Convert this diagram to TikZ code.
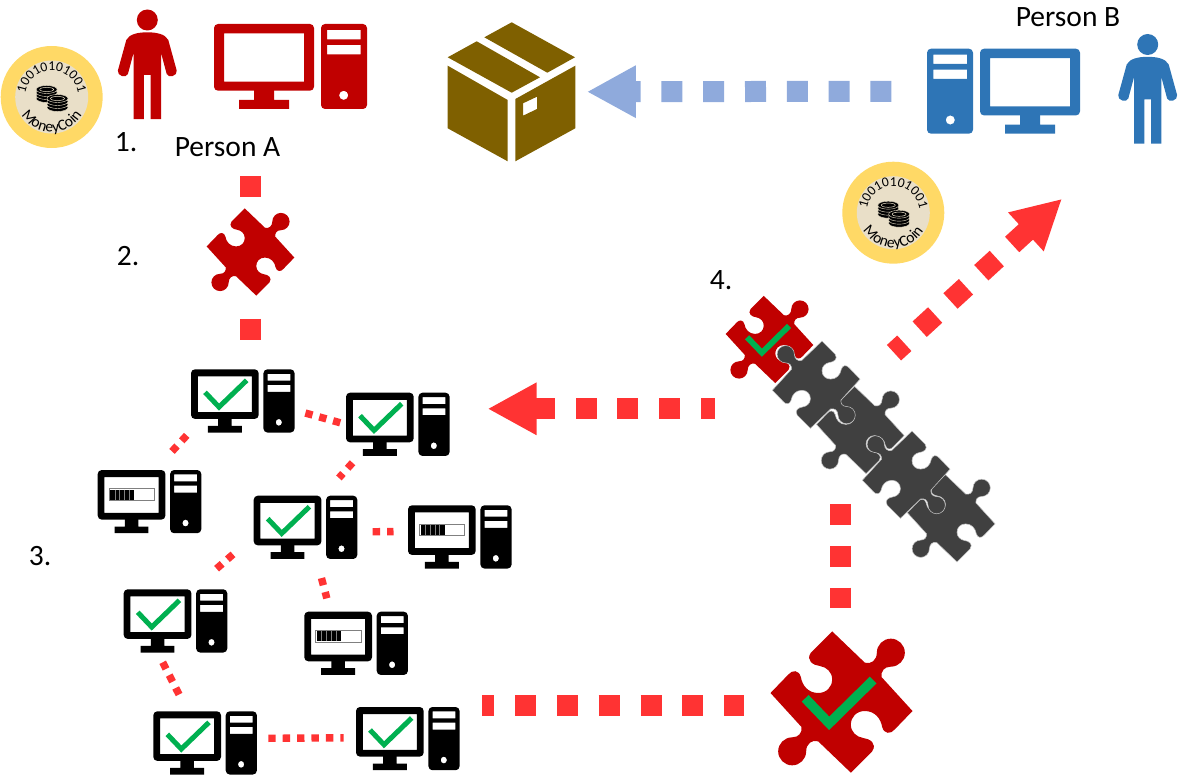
\documentclass[tikz,border=0pt]{standalone}
\usepackage{fontspec}
\setmainfont{Carlito}
\usepackage{xcolor}
\usetikzlibrary{
  positioning,
  calc,
  arrows.meta,
  fit,
  decorations.text
}
\definecolor{pcred}{HTML}{C00000}
\definecolor{pcblue}{HTML}{2E75B6}
\definecolor{linkred}{HTML}{FF3333}
\definecolor{linkblue}{HTML}{8FAADC}
\definecolor{tickgreen}{HTML}{00B050}
\definecolor{coinrim}{HTML}{FFD966}
\definecolor{coinface}{HTML}{E9DFC8}
\definecolor{parcelbrown}{HTML}{7F6000}
\definecolor{chaingrey}{HTML}{404040}
\newcommand{\coinsize}{\fontsize{13.6}{15}\selectfont}
\newcommand{\coinname}{\fontsize{15.5}{17}\selectfont}
\newcommand{\puzzlepath}{
  (-28,-212) -- (70,-118) .. controls (88,-112) and (106,-125) .. (106,-148)
  arc [start angle=180, end angle=450, radius=42]
  .. controls (128,-106) and (118,-92) .. (120,-75)
  -- (213,27) -- (160,82) .. controls (148,97) and (128,97) .. (122,75)
  .. controls (118,50) and (100,27) .. (70,27)
  .. controls (45,27) and (28,45) .. (28,68)
  .. controls (28,90) and (45,105) .. (65,108)
  .. controls (85,110) and (108,125) .. (92,148)
  -- (28,212) -- (-70,118) .. controls (-88,112) and (-106,125) .. (-106,148)
  arc [start angle=0, end angle=270, radius=42]
  .. controls (-128,106) and (-118,92) .. (-120,75)
  -- (-213,-27) -- (-160,-82) .. controls (-148,-97) and (-128,-97) .. (-122,-75)
  .. controls (-118,-50) and (-100,-27) .. (-70,-27)
  .. controls (-45,-27) and (-28,-45) .. (-28,-68)
  .. controls (-28,-90) and (-45,-105) .. (-65,-108)
  .. controls (-85,-110) and (-108,-125) .. (-92,-148)
  -- cycle
}
\newcommand{\pcbody}[1]{
  \fill [#1, even odd rule, rounded corners=4pt]
    (0,0) rectangle (100,66.7)
    [sharp corners] (10,9.5) rectangle (90,57.7);
  \fill [#1] (40,66) rectangle (60,77) (25,76) rectangle (75,85);
  \fill [#1, even odd rule, rounded corners=4pt]
    (107,0) rectangle (153,85)
    [sharp corners] (113,6) rectangle (146.7,15.3) (113,21) rectangle (146.7,30.3)
    (129.7,71.3) circle [radius=4.6];
  \node [inner sep=0pt, fit={(0,0) (153,85)}] (-n) {};
}
\tikzset{
  >={Triangle[length=49pt,width=49pt]},
  small/.style = {
    xscale=.677, yscale=.744
  },
  lbl/.style = {
    font=\fontsize{29.5}{32}\selectfont, inner sep=0pt, anchor=base
  },
  block/.style = {
    draw=linkred, line width=21pt
  },
  biglink/.style = {
    draw=linkred, line width=21pt, dash pattern=on 21pt off 20.8pt
  },
  netlink/.style = {
    draw=linkred, line width=7.4pt, dash pattern=on 7.4pt off 7pt
  },
  tick/.style = {
    draw=tickgreen, line width=5pt
  },
  pics/desktop/.style = {
    code = {
      \pcbody{#1}
    }
  },
  pics/okpc/.style = {
    code = {
      \pcbody{black}
      \draw [tick] (20.7,30.9) -- (41.4,50.7) -- (82.3,14.8);
    }
  },
  pics/waitpc/.style = {
    code = {
      \pcbody{black}
      \draw [gray, line width=1pt] (17,25.2) rectangle (84,41);
      \fill [black] (18.5,26.4) rectangle (54,39.8);
      \foreach \i in {1,...,4}
        \draw [gray, line width=.7pt] (18.5+7.1*\i,26.4) -- (18.5+7.1*\i,39.8);
    }
  },
  pics/person/.style = {
    code = {
      \fill [#1] (0,10.5) circle [radius=10.5];
      \fill [#1] (0,22.8) .. controls (9,22.8) and (18,24.5) .. (21,30.5)
        -- (29.4,61) .. controls (30.5,66.5) and (21,69) .. (19.4,64.5)
        -- (13.7,43.2) -- (13.7,109.5) -- (3.4,109.5) -- (3.4,65.5)
        -- (-3.4,65.5) -- (-3.4,109.5) -- (-13.7,109.5) -- (-13.7,43.2)
        -- (-19.4,64.5) .. controls (-21,69) and (-30.5,66.5) .. (-29.4,61)
        -- (-21,30.5) .. controls (-18,24.5) and (-9,22.8) .. (0,22.8) -- cycle;
    }
  },
  pics/piece/.style = {
    code = {
      \fill [#1] \puzzlepath;
      \node [inner sep=0pt, fit={(-213,-212) (213,212)}] (-n) {};
    }
  },
  pics/seampiece/.style = {
    code = {
      \draw [fill=#1, draw=white!55!gray, line width=.5pt] \puzzlepath;
      \node [inner sep=0pt, fit={(-213,-212) (213,212)}] (-n) {};
    }
  },
  pics/piecetick/.style = {
    code = {
      \draw [draw=tickgreen, line width=#1] (-109,-11) -- (-37,64) -- (95,-66);
    }
  },
  pics/parcel/.style = {
    code = {
      \fill [parcelbrown]
        (81.7,22.3) -- (145,57.3) -- (117.3,72.7) -- (54.3,37.3) -- cycle
        (46.7,41.3) -- (110,77.3) -- (81.7,92.7) -- (17.7,57.3) -- cycle
        (17.7,65.7) -- (77.7,100) -- (77.7,161.3) -- (17.7,128.3) -- cycle;
      \fill [parcelbrown, even odd rule]
        (85.3,99) -- (145.3,65.7) -- (145.3,128.3) -- (85.3,161.3) -- cycle
        (93,103.3) -- (107,96.7) -- (107,109) -- (93,115.7) -- cycle;
      \node [inner sep=0pt, fit={(17.7,22.3) (145.3,161.3)}] (-n) {};
    }
  },
  pics/coin/.style = {
    code = {
      \fill [coinrim] (0,0) circle [radius=51];
      \fill [coinface] (0,0) circle [radius=36.5];
      \foreach \cx/\cy in {-5/-3, 5.8/6} {
        \foreach \dy in {4.5,1.5,-1.5,-4.5}
          \filldraw [fill=black, draw=coinface, line width=.4pt]
            (\cx,\cy+\dy) ellipse [x radius=10.5, y radius=4];
        \draw [coinface, line width=.5pt] (\cx,\cy-4.5) ellipse [x radius=7, y radius=2.1];
      }
      \begin{scope}[yscale=-1]
        \path [postaction={decorate}, decoration={text along path, text align=center,
            text={|\coinsize|10010101001}}]
          (210:26.5) arc [start angle=210, end angle=-30, radius=26.5];
        \path [postaction={decorate}, decoration={text along path, text align=center,
            text={|\coinname|MoneyCoin}}]
          (195:35) arc [start angle=195, end angle=345, radius=35];
      \end{scope}
    }
  }
}
\begin{document}
\begin{tikzpicture}[x=1pt, y=-1pt]
  \useasboundingbox (0,0) rectangle (1179,776);
  % top row
  \path
    (51.7,97) pic [] (coina) {coin}
    (893.3,212.7) pic [] (coinb) {coin}
    (147.3,9.5) pic [] (persa) {person=pcred}
    (1147.7,34) pic [] (persb) {person=pcblue}
    (214,24) pic [] (pca) {desktop=pcred}
    (1080,48.7) pic [xscale=-1] (pcb) {desktop=pcblue}
    (430,0) pic [] (parcel) {parcel};
  % labels
  \path
    (126,151.7) node [lbl] (lab1) {1.}
    (128,265) node [lbl] (lab2) {2.}
    (40,565) node [lbl] (lab3) {3.}
    (721,289) node [lbl] (lab4) {4.}
    (227.5,156) node [lbl] (namea) {Person A}
    (1068,26.7) node [lbl] (nameb) {Person B};
  % miners
  \path
    (191,369.3) pic [small] (pc1) {okpc}
    (346,392.7) pic [small] (pc2) {okpc}
    (97.7,470) pic [small] (pc3) {waitpc}
    (253.7,495.7) pic [small] (pc4) {okpc}
    (408,505.3) pic [small] (pc5) {waitpc}
    (123.7,589.3) pic [small] (pc6) {okpc}
    (304.3,611.7) pic [small] (pc7) {waitpc}
    (153.3,711.3) pic [small] (pc8) {okpc}
    (356,707) pic [small] (pc9) {okpc};
  % puzzle pieces
  \path
    (250.5,252) pic [scale=.2058] (puza) {piece=pcred}
    (841.5,702) pic [scale=.3333] (puzb) {piece=pcred}
    (841.5,702) pic [scale=.3333] {piecetick=9.5pt}
    (769.5,339.5) pic [scale=.2058] (puzc) {piece=pcred}
    (769.5,339.5) pic [scale=.2058] {piecetick=5.8pt}
    (951.2,518.3) pic [scale=.2058] (ch4) {seampiece=chaingrey}
    (906.2,474.7) pic [scale=.2058, xscale=-1] (ch3) {seampiece=chaingrey}
    (860.3,430) pic [scale=.2058] (ch2) {seampiece=chaingrey}
    (816.2,384.7) pic [scale=.2058, xscale=-1] (ch1) {seampiece=chaingrey};
  % free ends of the long links
  \coordinate (tailc) at (715,408.8);
  \coordinate (taild) at (840,504);
  \coordinate (taile) at (482.3,705.5);
  \coordinate (tailf) at (894,352.7);
  \coordinate (tipf) at (1062,198.8);
  % long links
  \path
    (puza-n.north |- namea.south) edge [block, shorten <=19.7pt, shorten >=11.3pt] (puza-n.north)
    (puza-n.south) edge [block, shorten <=23pt, shorten >=29.4pt] (puza-n.south |- pc1-n.north)
    (pcb-n.west) edge [->, biglink, draw=linkblue, shorten <=35.4pt, shorten >=11.4pt] (parcel-n.east)
    (tailc) edge [->, biglink, dash phase=7pt, shorten >=37.8pt] (tailc -| pc2-n.east)
    (tailf) edge [->, biglink, dash phase=7pt] (tipf)
    (taild) edge [biglink, shorten >=23.5pt] (taild |- puzb-n.north)
    (taile) edge [biglink, dash phase=9pt, shorten >=26pt] (taile -| puzb-n.west);
  % links between the miners
  \path
    (pc1-n.-10.7) edge [netlink, shorten <=11pt, shorten >=5.8pt] (pc2-n.180.7)
    (pc1-n.210) edge [netlink, shorten <=6pt, shorten >=25pt] (pc3-n.80.7)
    (pc2-n.219.7) edge [netlink, shorten <=8.9pt, shorten >=23.6pt] (pc4-n.61.6)
    (pc4-n.-5) edge [netlink, shorten <=15.2pt, shorten >=14.3pt] (pc5-n.174.4)
    (pc4-n.190.9) edge [netlink, shorten <=27.2pt, shorten >=30.9pt] (pc6-n.61.4)
    (pc4-n.-71.5) edge [netlink, shorten <=19.6pt, shorten >=13.6pt] (pc7-n.129.2)
    (pc6-n.241.6) edge [netlink, shorten <=10.7pt, shorten >=18.4pt] (pc8-n.119.8)
    (pc8-n.5) edge [netlink, shorten <=11.2pt, shorten >=12.2pt] (pc9-n.179.6);
\end{tikzpicture}
\end{document}
